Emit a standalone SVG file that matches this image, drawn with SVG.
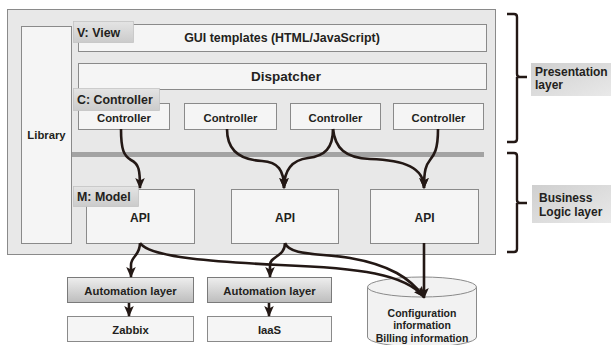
<svg xmlns="http://www.w3.org/2000/svg" width="611" height="345" viewBox="0 0 611 345">
  <style>
    text { font-family: "Liberation Sans", Arial, sans-serif; font-weight: bold; fill: #231f20; }
    .t11 { font-size: 11.3px; text-anchor: middle; }
    .t12 { font-size: 12px; }
    .tag-t { font-size: 12.4px; }
    .t10 { font-size: 10.5px; text-anchor: middle; }
    .frame { fill: #e8e8e8; stroke: #8a8a8a; stroke-width: 1; }
    .box { fill: #f5f5f5; stroke: #8a8a8a; stroke-width: 1; }
    .tag { fill: url(#tagGrad); stroke: #c4c4c4; stroke-width: 0.8; }
    .auto { fill: url(#autoGrad); stroke: #7a7a7a; stroke-width: 1; }
    .side { fill: url(#sideGrad); }
    .wire { fill: none; stroke: #231815; stroke-width: 2.6; }
    .brace { fill: none; stroke: #231815; stroke-width: 2.4; stroke-linejoin: round; }
  </style>
  <defs>
    <linearGradient id="tagGrad" x1="0" y1="0" x2="0" y2="1">
      <stop offset="0" stop-color="#e4e4e4"/>
      <stop offset="1" stop-color="#cbcbcb"/>
    </linearGradient>
    <linearGradient id="autoGrad" x1="0" y1="0" x2="0" y2="1">
      <stop offset="0" stop-color="#eeeeee"/>
      <stop offset="1" stop-color="#bdbdbd"/>
    </linearGradient>
    <linearGradient id="sideGrad" x1="0" y1="0" x2="1" y2="1">
      <stop offset="0" stop-color="#cfcfcf"/>
      <stop offset="1" stop-color="#e9e9e9"/>
    </linearGradient>
    <marker id="head" markerUnits="userSpaceOnUse" markerWidth="12" markerHeight="12" viewBox="0 0 12 12" refX="10" refY="6" orient="auto">
      <path d="M0,1.2 L11,6 L0,10.8 L2.5,6 Z" fill="#231815"/>
    </marker>
  </defs>

  <!-- application frame -->
  <rect class="frame" x="7.5" y="9.5" width="488" height="245"/>

  <g id="library">
    <rect class="box" x="21.5" y="26.5" width="50" height="217"/>
    <text class="t11" x="46.5" y="139">Library</text>
  </g>

  <g id="gui-templates">
    <rect class="box" x="78.5" y="24.5" width="408" height="27"/>
    <text class="t11" x="282" y="41.5" style="font-size:12.4px">GUI templates (HTML/JavaScript)</text>
  </g>

  <g id="dispatcher">
    <rect class="box" x="78.5" y="63.5" width="408" height="26"/>
    <text class="t11" x="286" y="81" style="font-size:13.5px">Dispatcher</text>
  </g>

  <g id="controller-1">
    <rect class="box" x="78.5" y="103.5" width="91" height="26"/>
    <text class="t11" x="124" y="122">Controller</text>
  </g>
  <g id="controller-2">
    <rect class="box" x="184.5" y="103.5" width="92" height="26"/>
    <text class="t11" x="230.5" y="122">Controller</text>
  </g>
  <g id="controller-3">
    <rect class="box" x="290.5" y="103.5" width="90" height="26"/>
    <text class="t11" x="335.5" y="122">Controller</text>
  </g>
  <g id="controller-4">
    <rect class="box" x="393.5" y="103.5" width="90" height="26"/>
    <text class="t11" x="438.5" y="122">Controller</text>
  </g>

  <!-- layer separator -->
  <rect x="72" y="152" width="412" height="5" fill="#a3a3a3"/>

  <g id="api-1">
    <rect class="box" x="86.5" y="189.5" width="108" height="54"/>
    <text class="t11" x="140" y="222" style="font-size:12px">API</text>
  </g>
  <g id="api-2">
    <rect class="box" x="231.5" y="189.5" width="107" height="54"/>
    <text class="t11" x="285" y="222" style="font-size:12px">API</text>
  </g>
  <g id="api-3">
    <rect class="box" x="370.5" y="189.5" width="108" height="54"/>
    <text class="t11" x="424.5" y="222" style="font-size:12px">API</text>
  </g>

  <!-- MVC tags -->
  <g id="tag-view">
    <rect class="tag" x="73.5" y="21.5" width="60" height="21"/>
    <text class="tag-t" x="77" y="37">V: View</text>
  </g>
  <g id="tag-controller">
    <rect class="tag" x="73.5" y="88.5" width="86" height="22"/>
    <text class="tag-t" x="77" y="104">C: Controller</text>
  </g>
  <g id="tag-model">
    <rect class="tag" x="73.5" y="186.5" width="65" height="20"/>
    <text class="tag-t" x="77" y="201">M: Model</text>
  </g>

  <g id="automation-1">
    <rect class="auto" x="67.5" y="277.5" width="126" height="25"/>
    <text class="t11" x="130.5" y="295">Automation layer</text>
  </g>
  <g id="automation-2">
    <rect class="auto" x="207.5" y="277.5" width="124" height="25"/>
    <text class="t11" x="269.5" y="295">Automation layer</text>
  </g>
  <g id="zabbix">
    <rect class="box" x="67.5" y="316.5" width="126" height="25"/>
    <text class="t11" x="130.5" y="334">Zabbix</text>
  </g>
  <g id="iaas">
    <rect class="box" x="207.5" y="316.5" width="124" height="25"/>
    <text class="t11" x="269.5" y="334">IaaS</text>
  </g>

  <g id="datastore">
    <path d="M367.5,287 L367.5,337 A54.5,10 0 0 0 476.5,337 L476.5,287" fill="#f2f2f2" stroke="#8a8a8a"/>
    <ellipse cx="422" cy="287" rx="54.5" ry="10" fill="#f2f2f2" stroke="#8a8a8a"/>
    <text class="t10" x="422" y="317">Configuration</text>
    <text class="t10" x="422" y="329">information</text>
    <text class="t10" x="422" y="342">Billing information</text>
  </g>

  <g id="presentation-layer">
    <path class="brace" d="M507,14 L514,14 Q517,14 517,17 L517,74 Q517,77 520,77 L527,77 M517,77 Q517,80 517,83 L517,139 Q517,142 514,142 L507,142"/>
    <rect class="side" x="531" y="63" width="80" height="33"/>
    <text class="t12" x="535" y="75.5">Presentation</text>
    <text class="t12" x="535" y="88.5">layer</text>
  </g>

  <g id="business-logic-layer">
    <path class="brace" d="M507,153 L514,153 Q517,153 517,156 L517,200 Q517,203 520,203 L527,203 M517,203 L517,249 Q517,252 514,252 L507,252"/>
    <rect class="side" x="532" y="185" width="79" height="38"/>
    <text class="t12" x="539" y="202">Business</text>
    <text class="t12" x="539" y="216">Logic layer</text>
  </g>

  <g id="connectors">
    <!-- controllers to APIs -->
    <path class="wire" marker-end="url(#head)" d="M121,129 C121,150 124,156 131,160 C139,164 140,170 140,188"/>
    <path class="wire" marker-end="url(#head)" d="M227,129 C227,150 240,160 262,161 C278,162 284,170 284,188"/>
    <path class="wire" marker-end="url(#head)" d="M333,129 C333,148 325,156 308,158 C292,160 284,170 284,188"/>
    <path class="wire" marker-end="url(#head)" d="M333,129 C335,148 345,158 370,159 C405,160 424,168 424,188"/>
    <path class="wire" marker-end="url(#head)" d="M438,129 C438,150 434,155 430,160 C426,165 424,170 424,188"/>
    <!-- APIs to automation layers -->
    <path class="wire" marker-end="url(#head)" d="M140,243 C140,256 131,256 131,265 L131,277"/>
    <path class="wire" marker-end="url(#head)" d="M285,243 C285,257 270,256 270,265 L270,277"/>
    <!-- APIs to datastore -->
    <path class="wire" marker-end="url(#head)" d="M140,243 C150,258 220,262 280,265 C360,268 405,274 424,297"/>
    <path class="wire" marker-end="url(#head)" d="M285,243 C290,256 320,253 350,258 C390,265 410,278 424,297"/>
    <path class="wire" marker-end="url(#head)" d="M424,243 L424,298"/>
    <!-- automation layers to targets -->
    <path class="wire" marker-end="url(#head)" d="M129,303 L129,316"/>
    <path class="wire" marker-end="url(#head)" d="M269,303 L269,316"/>
  </g>
</svg>
